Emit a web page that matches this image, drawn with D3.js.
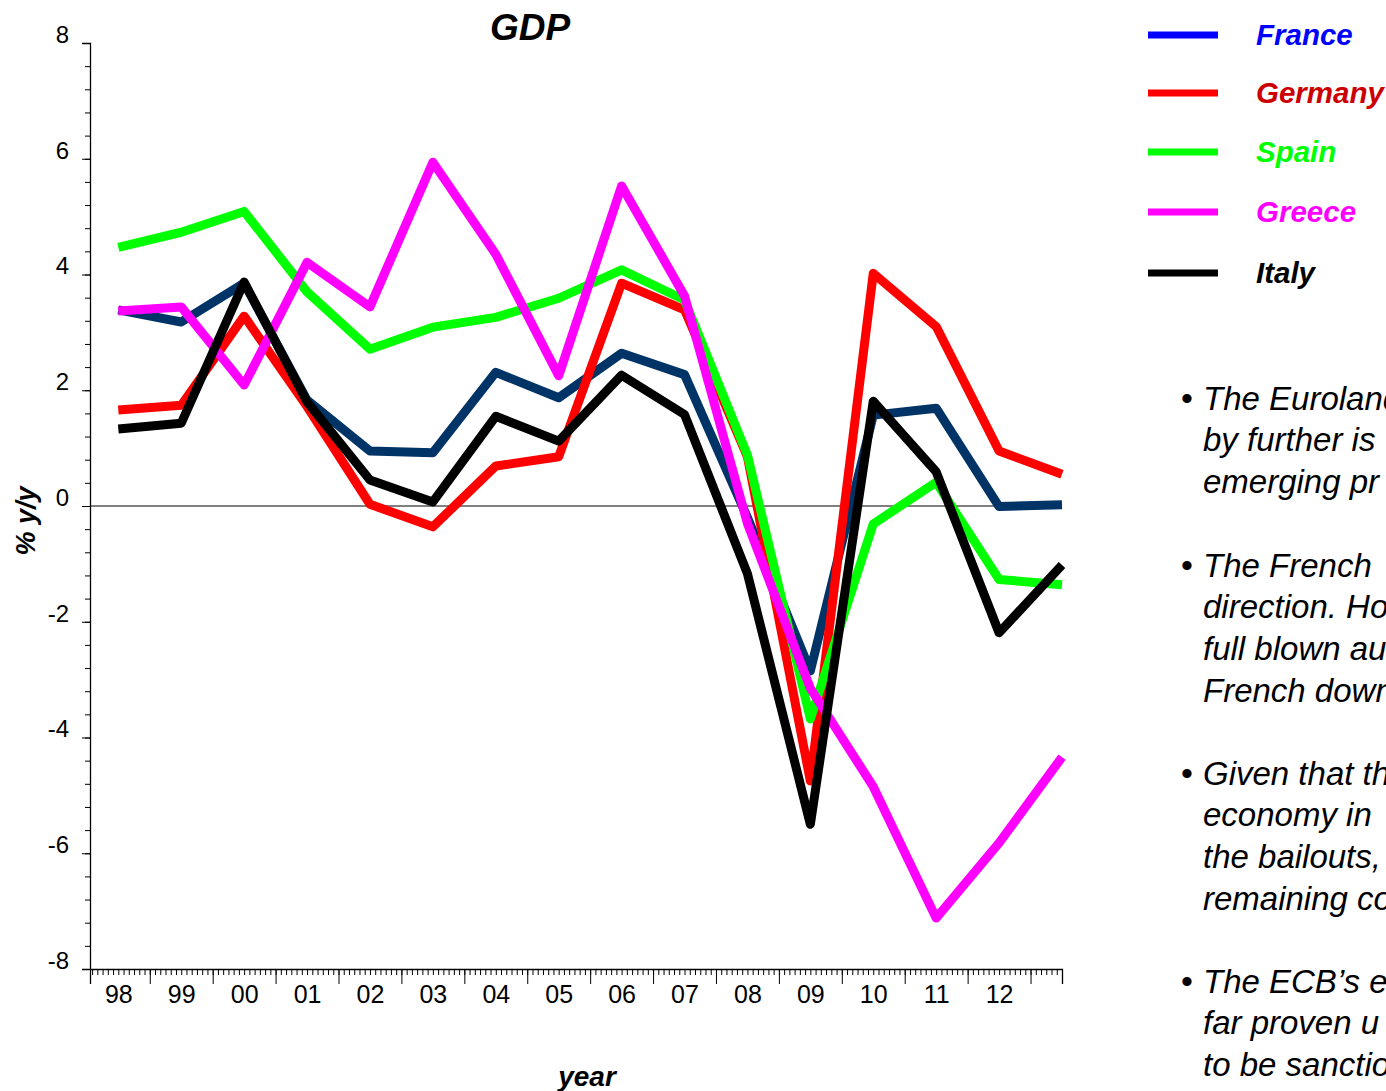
<!DOCTYPE html>
<html>
<head>
<meta charset="utf-8">
<script src="https://cdn.jsdelivr.net/npm/d3@7"></script>
<style>
  body { margin: 0; background: #fff; overflow: hidden; }
  svg { display: block; font-family: "Liberation Sans", Arial, sans-serif; }
</style>
</head>
<body>
<div id="chart"></div>
<script>
// GDP growth, % y/y (point at mid-year)
const years   = [1998, 1999, 2000, 2001, 2002, 2003, 2004, 2005, 2006, 2007, 2008, 2009, 2010, 2011, 2012, 2013];
const yearLabels = ['98','99','00','01','02','03','04','05','06','07','08','09','10','11','12'];
const france  = [3.39, 3.18, 3.85, 1.83, 0.95, 0.92, 2.31, 1.87, 2.64, 2.27, -0.2, -2.85, 1.57, 1.69, -0.01, 0.02];
const germany = [1.66, 1.74, 3.28, 1.72, 0.03, -0.36, 0.69, 0.85, 3.85, 3.39, 0.85, -4.75, 4.02, 3.10, 0.95, 0.55];
const spain   = [4.47, 4.73, 5.09, 3.70, 2.71, 3.09, 3.26, 3.59, 4.08, 3.56, 0.88, -3.68, -0.31, 0.41, -1.27, -1.36];
const greece  = [3.37, 3.44, 2.09, 4.21, 3.44, 5.94, 4.35, 2.25, 5.53, 3.63, -0.3, -3.15, -4.85, -7.12, -5.82, -4.34];
const italy   = [1.33, 1.43, 3.87, 1.80, 0.45, 0.07, 1.55, 1.12, 2.26, 1.58, -1.17, -5.5, 1.81, 0.59, -2.19, -1.02];
const yTicks  = [-8, -6, -4, -2, 0, 2, 4, 6, 8];

const series = [
  { name: 'France',  values: france,  line: '#003366', legLine: '#0000ff', legText: '#0000ff' },
  { name: 'Germany', values: germany, line: '#ff0000', legLine: '#ff0000', legText: '#cc0000' },
  { name: 'Spain',   values: spain,   line: '#00ff00', legLine: '#00ff00', legText: '#00ff00' },
  { name: 'Greece',  values: greece,  line: '#ff00ff', legLine: '#ff00ff', legText: '#ff00ff' },
  { name: 'Italy',   values: italy,   line: '#000000', legLine: '#000000', legText: '#000000' }
];

// commentary runs past the right edge in the original, so it is clipped there
const bullets = [
  ['The Euroland', 'by further is', 'emerging pr'],
  ['The French', 'direction. Ho', 'full blown au', 'French down'],
  ['Given that th', 'economy in', 'the bailouts,', 'remaining co'],
  ['The ECB\u2019s e', 'far proven u', 'to be sanctio']
];

const W = 1386, H = 1091;
const plotL = 90, plotR = 1062, plotT = 43, plotB = 969;

const svg = d3.select('#chart').append('svg')
  .attr('width', W).attr('height', H);

const x = d3.scaleLinear().domain([1998.05, 2013.5]).range([plotL, plotR]);
const y = d3.scaleLinear().domain([-8, 8]).range([plotB, plotT]);

// y axis: minor ticks every 0.4, labels every 2
svg.append('g')
  .attr('transform', `translate(${plotL},0)`)
  .call(d3.axisLeft(y).tickValues(d3.range(-8, 8.001, 0.4)).tickSize(5).tickFormat(''))
  .call(g => g.select('.domain').remove())
  .selectAll('line').attr('stroke', '#000');

const yAx = svg.append('g')
  .attr('transform', `translate(${plotL},0)`)
  .call(d3.axisLeft(y).tickValues(yTicks).tickSize(8).tickFormat(d => String(d)));
yAx.select('.domain').attr('stroke', '#000').attr('stroke-width', 1.3);
yAx.selectAll('line').attr('stroke', '#000');
yAx.selectAll('text')
  .attr('x', -21).attr('y', -9).attr('dy', '0.35em')
  .style('font-size', '24px').attr('fill', '#000');

// x axis: monthly minor ticks, year-start major ticks
const months = [];
for (let m = 1998 * 12; m <= 2013.5 * 12; m++) {
  const v = m / 12;
  if (v >= 1998.05 && v <= 2013.5) months.push(v);
}
const yearStarts = d3.range(1999, 2014);

svg.append('g')
  .attr('transform', `translate(0,${plotB})`)
  .call(d3.axisBottom(x).tickValues(months).tickSize(6).tickFormat(''))
  .call(g => g.select('.domain').remove())
  .selectAll('line').attr('stroke', '#000');

const xAx = svg.append('g')
  .attr('transform', `translate(0,${plotB})`)
  .call(d3.axisBottom(x).tickValues([1998.05, ...yearStarts, 2013.5]).tickSize(15).tickFormat(''));
xAx.select('.domain').attr('stroke', '#000').attr('stroke-width', 1.3);
xAx.selectAll('line').attr('stroke', '#000');

const xLab = svg.append('g')
  .attr('transform', `translate(0,${plotB})`)
  .call(d3.axisBottom(x).tickValues(years.slice(0, yearLabels.length).map(d => d + 0.5)).tickSize(0)
    .tickFormat((d, i) => yearLabels[i]));
xLab.select('.domain').remove();
xLab.selectAll('text')
  .attr('y', 16).attr('dy', '0.71em')
  .style('font-size', '25px').attr('fill', '#000');

// zero line
svg.append('line')
  .attr('x1', plotL).attr('x2', plotR)
  .attr('y1', y(0)).attr('y2', y(0))
  .attr('stroke', '#000').attr('stroke-width', 1);

// series
const line = d3.line()
  .x((d, i) => x(years[i] + 0.5))
  .y(d => y(d));

svg.append('g').selectAll('path')
  .data(series)
  .join('path')
  .attr('d', d => line(d.values))
  .attr('fill', 'none')
  .attr('stroke', d => d.line)
  .attr('stroke-width', 9)
  .attr('stroke-linejoin', 'round');

// titles
svg.append('text')
  .attr('x', 530).attr('y', 40)
  .attr('text-anchor', 'middle')
  .style('font-size', '37px').style('font-weight', 'bold').style('font-style', 'italic')
  .text('GDP');

svg.append('text')
  .attr('transform', 'translate(35,521) rotate(-90)')
  .attr('text-anchor', 'middle')
  .style('font-size', '27px').style('font-weight', 'bold').style('font-style', 'italic')
  .text('% y/y');

svg.append('text')
  .attr('x', 587).attr('y', 1086)
  .attr('text-anchor', 'middle')
  .style('font-size', '28px').style('font-weight', 'bold').style('font-style', 'italic')
  .text('year');

// legend
const legY = [35, 93, 152, 212, 273];
const legend = svg.append('g').selectAll('g')
  .data(series)
  .join('g')
  .attr('transform', (d, i) => `translate(0,${legY[i]})`);
legend.append('line')
  .attr('x1', 1148).attr('x2', 1218)
  .attr('stroke', d => d.legLine).attr('stroke-width', 7);
legend.append('text')
  .attr('x', 1256).attr('dy', '0.33em')
  .attr('fill', d => d.legText)
  .style('font-size', '29.5px').style('font-weight', 'bold').style('font-style', 'italic')
  .text(d => d.name);

// commentary bullets
const paraY = [398, 565, 773, 981];
bullets.forEach((lines, p) => {
  svg.append('text')
    .attr('x', 1181).attr('y', paraY[p]).attr('dy', '0.35em')
    .style('font-size', '34px')
    .text('\u2022');
  lines.forEach((t, k) => {
    svg.append('text')
      .attr('x', 1203).attr('y', paraY[p] + k * 41.7).attr('dy', '0.35em')
      .style('font-size', '33px').style('font-style', 'italic')
      .text(t);
  });
});
</script>
</body>
</html>
